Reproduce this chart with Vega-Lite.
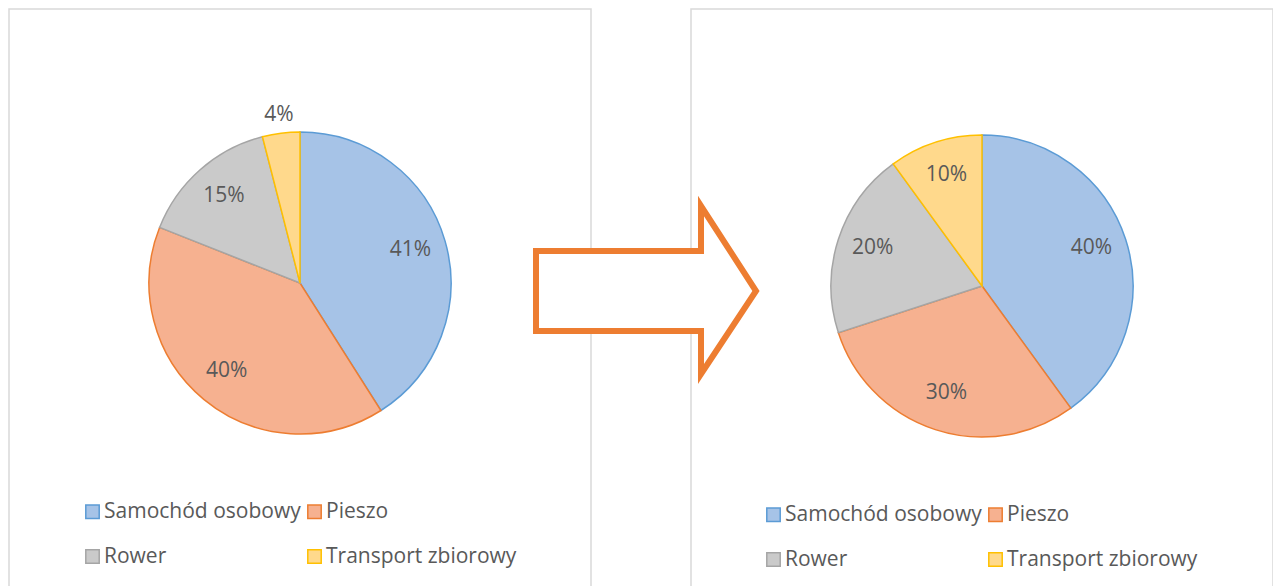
{
  "$schema": "https://vega.github.io/schema/vega-lite/v6.json",
  "padding": {"left": 8, "top": 8, "right": 0, "bottom": 0},
  "bounds": "flush",
  "spacing": 100,
  "background": "white",
  "config": {
    "view": {"stroke": "#d9d9d9", "strokeWidth": 1.5},
    "font": "Open Sans"
  },
  "datasets": {
    "before": [
      {"mode": "Samochód osobowy", "i": 1, "pct": 0.41},
      {"mode": "Pieszo", "i": 2, "pct": 0.40},
      {"mode": "Rower", "i": 3, "pct": 0.15},
      {"mode": "Transport zbiorowy", "i": 4, "pct": 0.04}
    ],
    "after": [
      {"mode": "Samochód osobowy", "i": 1, "pct": 0.40},
      {"mode": "Pieszo", "i": 2, "pct": 0.30},
      {"mode": "Rower", "i": 3, "pct": 0.20},
      {"mode": "Transport zbiorowy", "i": 4, "pct": 0.10}
    ],
    "arrow": [
      {"i": 1, "x": -155, "y": 242},
      {"i": 2, "x": 10, "y": 242},
      {"i": 3, "x": 10, "y": 197},
      {"i": 4, "x": 65, "y": 282},
      {"i": 5, "x": 10, "y": 365},
      {"i": 6, "x": 10, "y": 322},
      {"i": 7, "x": -155, "y": 322}
    ]
  },
  "resolve": {
    "scale": {"fill": "independent", "stroke": "independent", "theta": "independent"},
    "legend": {"fill": "independent", "stroke": "independent"}
  },
  "hconcat": [
    {
      "width": 582,
      "height": 578,
      "view": {"stroke": "#d9d9d9", "strokeWidth": 1.5},
      "data": {"name": "before"},
      "layer": [
        {
          "mark": {"type": "arc", "outerRadius": 151, "strokeWidth": 1.5, "yOffset": -15},
          "encoding": {
            "theta": {"field": "pct", "type": "quantitative", "stack": true},
            "order": {"field": "i", "type": "quantitative"},
            "fill": {
              "field": "mode", "type": "nominal",
              "scale": {"domain": ["Samochód osobowy", "Pieszo", "Rower", "Transport zbiorowy"], "range": ["#A6C3E7", "#F6B190", "#CACACA", "#FFD98C"]},
              "legend": {"title": null, "orient": "none", "direction": "horizontal", "legendX": 73, "legendY": 492, "columns": 2, "symbolType": "square", "symbolSize": 180, "symbolStrokeWidth": 1.5, "labelFont": "Open Sans", "labelFontSize": 21, "labelColor": "#595959", "labelOffset": 1, "columnPadding": 3, "rowPadding": 23, "labelLimit": 400}
            },
            "stroke": {
              "field": "mode", "type": "nominal",
              "scale": {"domain": ["Samochód osobowy", "Pieszo", "Rower", "Transport zbiorowy"], "range": ["#5B9BD5", "#ED7D31", "#A5A5A5", "#FFC000"]},
              "legend": {"title": null, "orient": "none", "direction": "horizontal", "legendX": 73, "legendY": 492, "columns": 2, "symbolType": "square", "symbolSize": 180, "symbolStrokeWidth": 1.5, "labelFont": "Open Sans", "labelFontSize": 21, "labelColor": "#595959", "labelOffset": 1, "columnPadding": 3, "rowPadding": 23, "labelLimit": 400}
            }
          }
        },
        {
          "mark": {"type": "text", "radius": {"expr": "datum.pct < 0.05 ? 168 : 115"}, "yOffset": -16, "font": "Open Sans", "fontSize": 21, "fill": "#595959", "baseline": "middle", "align": "center"},
          "encoding": {
            "theta": {"field": "pct", "type": "quantitative", "stack": true},
            "order": {"field": "i", "type": "quantitative"},
            "detail": {"field": "mode", "type": "nominal"},
            "text": {"field": "pct", "type": "quantitative", "format": ".0%"}
          }
        }
      ]
    },
    {
      "width": 582,
      "height": 578,
      "layer": [
        {
          "data": {"name": "after"},
          "mark": {"type": "arc", "outerRadius": 151, "strokeWidth": 1.5, "yOffset": -12},
          "encoding": {
            "theta": {"field": "pct", "type": "quantitative", "stack": true},
            "order": {"field": "i", "type": "quantitative"},
            "fill": {
              "field": "mode", "type": "nominal",
              "scale": {"domain": ["Samochód osobowy", "Pieszo", "Rower", "Transport zbiorowy"], "range": ["#A6C3E7", "#F6B190", "#CACACA", "#FFD98C"]},
              "legend": {"title": null, "orient": "none", "direction": "horizontal", "legendX": 72, "legendY": 495, "columns": 2, "symbolType": "square", "symbolSize": 180, "symbolStrokeWidth": 1.5, "labelFont": "Open Sans", "labelFontSize": 21, "labelColor": "#595959", "labelOffset": 1, "columnPadding": 3, "rowPadding": 23, "labelLimit": 400}
            },
            "stroke": {
              "field": "mode", "type": "nominal",
              "scale": {"domain": ["Samochód osobowy", "Pieszo", "Rower", "Transport zbiorowy"], "range": ["#5B9BD5", "#ED7D31", "#A5A5A5", "#FFC000"]},
              "legend": {"title": null, "orient": "none", "direction": "horizontal", "legendX": 72, "legendY": 495, "columns": 2, "symbolType": "square", "symbolSize": 180, "symbolStrokeWidth": 1.5, "labelFont": "Open Sans", "labelFontSize": 21, "labelColor": "#595959", "labelOffset": 1, "columnPadding": 3, "rowPadding": 23, "labelLimit": 400}
            }
          }
        },
        {
          "data": {"name": "after"},
          "mark": {"type": "text", "radius": 115, "yOffset": -14, "font": "Open Sans", "fontSize": 21, "fill": "#595959", "baseline": "middle", "align": "center"},
          "encoding": {
            "theta": {"field": "pct", "type": "quantitative", "stack": true},
            "order": {"field": "i", "type": "quantitative"},
            "detail": {"field": "mode", "type": "nominal"},
            "text": {"field": "pct", "type": "quantitative", "format": ".0%"}
          }
        },
        {
          "data": {"name": "arrow"},
          "mark": {"type": "line", "interpolate": "linear-closed", "fill": "white", "stroke": "#ED7D31", "strokeWidth": 6, "strokeJoin": "miter", "strokeMiterLimit": 10},
          "encoding": {
            "x": {"field": "x", "type": "quantitative", "axis": null, "scale": {"domain": [0, 582], "zero": false, "nice": false}},
            "y": {"field": "y", "type": "quantitative", "axis": null, "scale": {"domain": [0, 578], "reverse": true, "zero": false, "nice": false}},
            "order": {"field": "i", "type": "quantitative"}
          }
        }
      ]
    }
  ]
}
